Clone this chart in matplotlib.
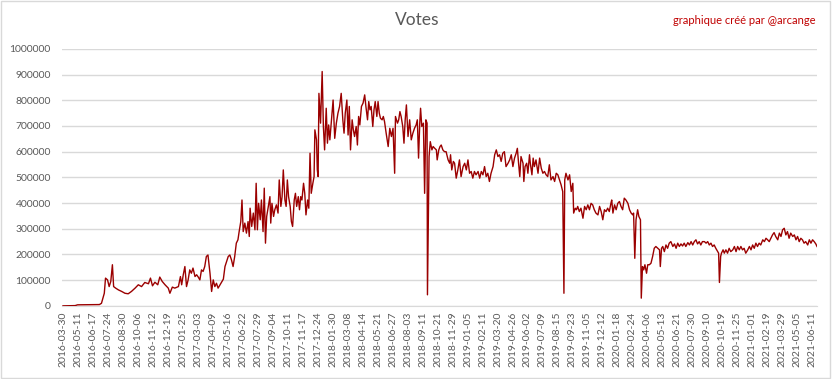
import matplotlib
matplotlib.use("Agg")
import matplotlib.pyplot as plt
from matplotlib.patches import Rectangle

plt.rcParams['font.family'] = ['Lato', 'DejaVu Sans']

# category labels shown every 37 points on the x axis
tick_labels = [
    "2016-03-30", "2016-05-11", "2016-06-17", "2016-07-24", "2016-08-30", "2016-10-06",
    "2016-11-12", "2016-12-19", "2017-01-25", "2017-03-03", "2017-04-09", "2017-05-16",
    "2017-06-22", "2017-07-29", "2017-09-04", "2017-10-11", "2017-11-17", "2017-12-24",
    "2018-01-30", "2018-03-08", "2018-04-14", "2018-05-21", "2018-06-27", "2018-08-03",
    "2018-09-11", "2018-10-21", "2018-11-29", "2019-01-05", "2019-02-11", "2019-03-20",
    "2019-04-26", "2019-06-02", "2019-07-09", "2019-08-15", "2019-09-23", "2019-11-05",
    "2019-12-12", "2020-01-18", "2020-02-24", "2020-04-06", "2020-05-13", "2020-06-21",
    "2020-07-30", "2020-09-10", "2020-10-19", "2020-11-25", "2021-01-01", "2021-02-19",
    "2021-03-29", "2021-05-05", "2021-06-11",
]
label_step = 37

# votes per day (thousands), by point index
idx_p1 = [0, 30, 36, 90, 95, 102, 105, 110, 114, 118, 122, 125, 130, 137, 145, 153, 161, 169,
          178, 186, 194, 202, 211, 216, 221, 227, 234, 239, 245, 252, 260, 264, 270, 276, 285,
          290, 293, 297, 301]
votes_p1 = [0, 1, 4, 5, 10, 49, 108, 101, 75, 95, 160, 75, 69, 62, 56, 49, 47, 56,
            69, 82, 75, 91, 86, 108, 78, 92, 82, 112, 95, 82, 69, 49, 73, 69, 75,
            114, 82, 121, 153]

idx_p2 = [305, 309, 313, 317, 321, 326, 330, 334, 338, 342, 346, 350, 354, 358, 363, 367, 371,
          375, 379, 383, 390, 396, 400, 404, 408, 412, 416, 420, 424, 428, 432, 435, 439, 442,
          445, 449, 453, 457, 460, 462, 466, 470, 474, 477, 480, 483, 487, 490, 494, 497, 500,
          503, 507, 511, 513, 516, 520, 523, 527, 531, 534, 538, 541, 544, 548, 551, 554, 557,
          561, 564, 567, 571, 574, 577, 581, 584, 587, 590, 594, 597, 600, 604, 607, 610, 613,
          617, 620]
votes_p2 = [75, 101, 140, 127, 147, 114, 121, 112, 101, 140, 134, 153, 192, 198, 127, 56, 101,
            75, 88, 69, 88, 104, 153, 172, 192, 198, 179, 153, 192, 244, 257, 289, 328, 412,
            289, 322, 283, 328, 270, 380, 309, 361, 296, 477, 296, 399, 335, 412, 289, 458, 244,
            348, 387, 425, 322, 399, 348, 374, 393, 361, 490, 387, 425, 529, 412, 387, 490, 425,
            387, 328, 309, 412, 438, 387, 425, 374, 425, 412, 477, 438, 354, 412, 380, 594, 438,
            477, 503]

idx_p3 = [622, 626, 628, 630, 632, 636, 640, 643, 646, 650, 653, 656, 659, 663, 667, 671, 675,
          679, 683, 687, 691, 694, 697, 701, 704, 707, 710, 714, 717, 720, 724, 727, 730, 733,
          737, 741, 745, 748, 752, 755, 758, 761, 765, 768, 771, 775, 778, 781, 784, 788, 791,
          794, 798, 803, 807, 811, 815, 819, 821, 826, 829, 832, 835, 839, 842, 845, 848, 852,
          856, 860, 864, 868, 872, 875, 878, 881, 883, 886, 890, 893, 896, 899, 900, 904, 907,
          911, 914, 918, 922, 924, 928, 931, 934, 938, 942]
votes_p3 = [685, 646, 529, 503, 827, 711, 912, 698, 607, 769, 633, 704, 646, 724, 801, 652, 711,
            750, 776, 827, 724, 672, 750, 801, 665, 776, 607, 724, 685, 659, 698, 626, 737, 704,
            776, 789, 821, 776, 724, 795, 763, 776, 698, 763, 795, 737, 795, 750, 730, 724, 737,
            717, 672, 620, 691, 659, 691, 516, 737, 711, 724, 756, 737, 698, 633, 724, 782, 659,
            724, 646, 672, 691, 704, 724, 575, 711, 769, 698, 711, 438, 724, 711, 43, 581, 639,
            607, 620, 613, 607, 568, 607, 620, 626, 607, 600]

idx_p4 = [946, 951, 955, 957, 960, 964, 967, 971, 975, 979, 983, 988, 992, 996, 1000, 1004,
          1008, 1012, 1016, 1020, 1025, 1029, 1033, 1037, 1041, 1045, 1049, 1053, 1057, 1062,
          1066, 1070, 1074, 1078, 1082, 1086, 1090, 1094, 1099, 1103, 1107, 1111, 1115, 1119,
          1122, 1125, 1128, 1131, 1136, 1138, 1141, 1145, 1148, 1152, 1154, 1158, 1161, 1164,
          1168, 1173, 1177, 1181, 1185, 1189, 1193, 1197, 1201, 1205, 1210, 1214, 1218, 1222,
          1226, 1230, 1234, 1237, 1239, 1242, 1247, 1251, 1255, 1259, 1261, 1265, 1268, 1271,
          1275, 1279, 1284, 1288]
votes_p4 = [600, 568, 555, 588, 529, 562, 555, 497, 529, 568, 503, 542, 555, 529, 568, 516,
            523, 497, 523, 510, 523, 497, 523, 510, 542, 503, 516, 484, 516, 542,
            588, 607, 581, 588, 562, 594, 600, 542, 555, 568, 588, 542, 575, 594,
            613, 555, 503, 581, 555, 484, 542, 555, 516, 588, 555, 510, 575, 542,
            568, 516, 575, 536, 516, 523, 510, 503, 549, 490, 503, 484, 516, 510,
            490, 471, 445, 49, 490, 516, 490, 510, 445, 477, 361, 380, 374, 387,
            367, 380, 341, 387]

idx_p5 = [1292, 1296, 1300, 1304, 1308, 1312, 1316, 1321, 1325, 1329, 1333, 1337, 1341, 1345,
          1349, 1353, 1355, 1358, 1362, 1366, 1370, 1374, 1378, 1382, 1386, 1390, 1395, 1399,
          1403, 1407, 1409, 1412, 1415, 1419, 1422, 1426, 1428, 1431, 1434, 1437, 1441, 1444,
          1448, 1452, 1456, 1460, 1464, 1469, 1473, 1475, 1478, 1481, 1485, 1489, 1493, 1497,
          1501, 1506, 1510, 1514, 1518, 1522, 1526, 1530, 1534, 1538, 1543, 1547, 1551, 1555,
          1559, 1563, 1567, 1571, 1575, 1579, 1584]
votes_p5 = [374, 393, 374, 399, 393, 374, 361, 354, 387, 367, 335, 374, 367, 380,
            367, 399, 412, 361, 393, 374, 399, 406, 387, 374, 419, 412, 399, 374,
            361, 354, 361, 185, 335, 374, 348, 335, 30, 153, 140, 160, 127, 160,
            160, 166, 192, 224, 231, 224, 218, 153, 224, 231, 211, 237, 224, 244,
            250, 231, 241, 224, 244, 231, 241, 233, 244, 231, 246, 237, 250, 237,
            250, 257, 241, 250, 237, 250, 250]

idx_p6 = [1588, 1592, 1596, 1600, 1604, 1608, 1612, 1617, 1619, 1621, 1624, 1626, 1630, 1633,
          1637, 1641, 1645, 1649, 1654, 1658, 1662, 1666, 1670, 1674, 1678, 1682, 1686, 1691,
          1695, 1699, 1703, 1707, 1711, 1715, 1719, 1723, 1728, 1732, 1736, 1740, 1744, 1748,
          1752, 1756, 1760, 1765, 1769, 1773, 1777, 1781, 1785, 1789, 1793, 1797, 1802, 1806,
          1810, 1814, 1818, 1822, 1826, 1830, 1834, 1839, 1843, 1847, 1851, 1855, 1859, 1862]
votes_p6 = [244, 250, 237, 244, 231, 237, 224, 211, 205, 91, 192, 205, 218, 205,
            218, 205, 224, 211, 218, 231, 211, 231, 218, 231, 218, 224, 205, 218,
            231, 218, 237, 224, 244, 231, 244, 237, 257, 250, 263, 257, 250, 263,
            276, 285, 270, 257, 283, 270, 296, 302, 276, 289, 263, 283, 270, 276,
            257, 270, 250, 263, 257, 244, 250, 237, 257, 244, 257, 250, 241, 231]

idx_all = idx_p1 + idx_p2 + idx_p3 + idx_p4 + idx_p5 + idx_p6
votes_all = [v * 1000 for v in votes_p1 + votes_p2 + votes_p3 + votes_p4 + votes_p5 + votes_p6]

grey = '#595959'
fig = plt.figure(figsize=(8.32, 3.79), dpi=100)
ax = fig.add_axes([0.0745, 0.193, 0.9075, 0.678])

ax.plot(idx_all, votes_all, color='#9B0000', lw=1.0, zorder=3)

ax.set_xlim(-2.5, 1862)
ax.set_ylim(0, 1000000)
ax.set_yticks(range(0, 1000001, 100000))
ax.set_yticklabels([str(v) for v in range(0, 1000001, 100000)], color=grey, fontsize=7.5)
ax.set_xticks([i * label_step for i in range(len(tick_labels))])
ax.set_xticklabels(tick_labels, rotation=90, color=grey, fontsize=7.5)
ax.tick_params(axis='both', length=0)
ax.tick_params(axis='y', pad=8)
ax.tick_params(axis='x', pad=4)
ax.grid(axis='y', color='#D9D9D9', lw=1.0)
ax.set_axisbelow(True)
for side in ['top', 'right', 'left']:
    ax.spines[side].set_visible(False)
ax.spines['bottom'].set_color('#D9D9D9')

fig.text(0.501, 0.947, "Votes", ha='center', va='center', color=grey, fontsize=12.5)
fig.text(0.98, 0.945, "graphique créé par @arcange", ha='right', va='center',
         color='#C00000', fontsize=8)

# light frame round the whole chart
fig.patches.append(Rectangle((0.001, 0.002), 0.997, 0.995, transform=fig.transFigure,
                             fill=False, edgecolor='#D9D9D9', lw=1.0))

fig.savefig("out.png", dpi=100)
